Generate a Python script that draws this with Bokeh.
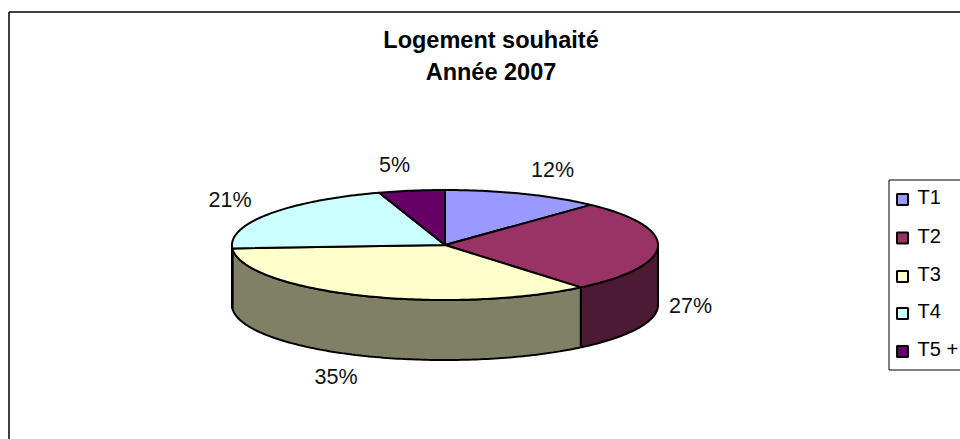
import math
from bokeh.plotting import figure
from bokeh.models import Range1d
from bokeh.core.properties import value
from bokeh.embed import file_html
from bokeh.resources import INLINE

categories = ["T1", "T2", "T3", "T4", "T5 +"]
percent = [12, 27, 35, 21, 5]
top_colors = ["#9999FF", "#993366", "#FFFFCC", "#CCFFFF", "#660066"]
wall_colors = ["#4C4C80", "#4D1A33", "#808066", "#668080", "#330033"]
title_lines = ["Logement souhaité", "Année 2007"]

W, H = 960, 439
CX, CY, RX, RY, DEPTH = 444.5, 244.5, 213, 55, 60
FONT = "Liberation Sans"

p = figure(width=W, height=H, output_backend="svg", toolbar_location=None,
           x_range=Range1d(0, W), y_range=Range1d(H, 0),
           min_border=0, outline_line_color=None, background_fill_color="white")
p.axis.visible = False
p.grid.visible = False


def pt(frac, dy=0.0):
    a = 2 * math.pi * frac
    return CX + RX * math.sin(a), CY - RY * math.cos(a) + dy


def arc(f0, f1, dy=0.0):
    n = max(2, int(abs(f1 - f0) * 360))
    pts = [pt(f0 + (f1 - f0) * i / n, dy) for i in range(n + 1)]
    return [q[0] for q in pts], [q[1] for q in pts]


p.line([8.5, 8.5], [H, 11.5], line_color="black", line_width=1.5)
p.line([8.5, W], [11.5, 11.5], line_color="black", line_width=1.5)

bounds = [0.0]
for v in percent:
    bounds.append(bounds[-1] + v / sum(percent))

for i in range(len(percent)):
    f0, f1 = max(bounds[i], 0.25), min(bounds[i + 1], 0.75)
    if f1 <= f0:
        continue
    xs, ys = arc(f0, f1)
    xb, yb = arc(f1, f0, DEPTH)
    p.patch(xs + xb, ys + yb, fill_color=wall_colors[i], line_color="black", line_width=2)

for i in range(len(percent)):
    xs, ys = arc(bounds[i], bounds[i + 1])
    p.patch([CX] + xs + [CX], [CY] + ys + [CY], fill_color=top_colors[i],
            line_color="black", line_width=2, line_join="round")

p.text([490.5, 490.5], [39.5, 71], text=title_lines, text_font=value(FONT), text_font_size="23.5px",
       text_font_style="bold", text_align="center", text_baseline="middle", text_color="black")

label_x = [552, 690, 335.5, 229.5, 394]
label_y = [169, 305, 376, 199, 164]
p.text(label_x, label_y, text=[f"{v}%" for v in percent], text_font=value(FONT),
       text_font_size="21.5px", text_align="center", text_baseline="middle", text_color="#111111")

p.quad(left=[888.5], right=[W + 5], top=[179.5], bottom=[369.5],
       fill_color="white", line_color="black", line_width=1)
ly = [199, 237.5, 276, 313, 351]
p.scatter([902] * 5, ly, marker="square", size=11, fill_color=top_colors,
          line_color="black", line_width=2)
p.text([917] * 5, [y - 2.5 for y in ly], text=categories, text_font=value(FONT),
       text_font_size="20px", text_align="left", text_baseline="middle", text_color="black")

open("out.html", "w").write(file_html(p, INLINE))
